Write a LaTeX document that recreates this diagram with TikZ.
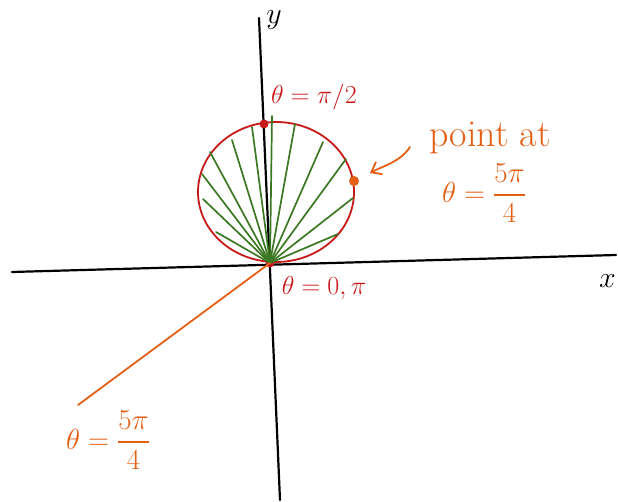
\RequirePackage{fix-cm}
\documentclass[tikz,border=0pt]{standalone}
\usepackage{amsmath,amssymb}
\usepackage{xcolor}
\usepackage{tikz}
\usetikzlibrary{arrows.meta, positioning, calc}
\definecolor{inkred}{RGB}{200,25,25}
\definecolor{inkgreen}{RGB}{60,120,35}
\definecolor{inkorange}{RGB}{228,95,20}
\tikzset{
  axis/.style={draw=black, line width=2.2pt, line cap=round},
  curve/.style={draw=inkred, line width=1.8pt},
  ray/.style={draw=inkgreen, line width=1.7pt, line cap=round},
  dot/.style={circle, fill=#1, inner sep=0pt, minimum size=9pt},
  lbl/.style={font=\fontsize{26}{30}\selectfont, inner sep=1pt, align=center},
  pointer/.style={draw=inkorange, line width=1.8pt, line cap=round},
  arrow/.style={-{Straight Barb[length=9pt, width=14pt]}, pointer}
}

\begin{document}
\begin{tikzpicture}[x=1pt, y=-1pt]
  \useasboundingbox (0,0) rectangle (618,502);
  % axes
  \coordinate (ytop) at (259,18);
  \coordinate (ybot) at (280,500);
  \coordinate (xleft) at (12,272);
  \coordinate (xright) at (616,255);
  \draw[axis] (ytop) -- (ybot);
  \draw[axis] (xleft) -- (xright);
  \node[lbl, font=\fontsize{30}{34}\selectfont] (ylab) at (274,20) {$y$};
  \node[lbl, font=\fontsize{30}{34}\selectfont, anchor=east] (xlab) at (617,281) {$x$};
  % the curve
  \draw[curve] (276,192) ellipse [x radius=78, y radius=70];
  \node[dot=inkred] (O) at (270,263) {};
  \node[dot=inkred] (top) at (264,124) {};
  % rays
  \foreach \px/\py in {216/232, 203/199, 202/174, 210/152, 232/140, 252/127,
                       272/116, 295/124, 323/142, 346/159, 353/198, 338/234}
    \draw[ray] (O.center) -- (\px,\py);
  % point at 5pi/4
  \node[dot=inkorange, minimum size=10pt] (q) at (354,181) {};
  \coordinate (tail) at (410,147);
  \draw[arrow] (tail) .. controls (400,162) and (385,165) .. (370,173);
  \node[lbl, text=inkorange, font=\fontsize{38}{42}\selectfont] (pt) at (490,138) {point at};
  \node[lbl, text=inkorange, font=\fontsize{29}{33}\selectfont] (qlab) at (484,193) {$\theta=\dfrac{5\pi}{4}$};
  % angle line
  \coordinate (far) at (78,405);
  \draw[pointer] (O.center) -- (far);
  \node[lbl, text=inkorange, font=\fontsize{29}{33}\selectfont] (alab) at (108,440) {$\theta=\dfrac{5\pi}{4}$};
  % red labels
  \node[lbl, text=inkred] (tlab) at (314,97) {$\theta=\pi/2$};
  \node[lbl, text=inkred] (olab) at (324,288) {$\theta=0,\pi$};
\end{tikzpicture}
\end{document}
